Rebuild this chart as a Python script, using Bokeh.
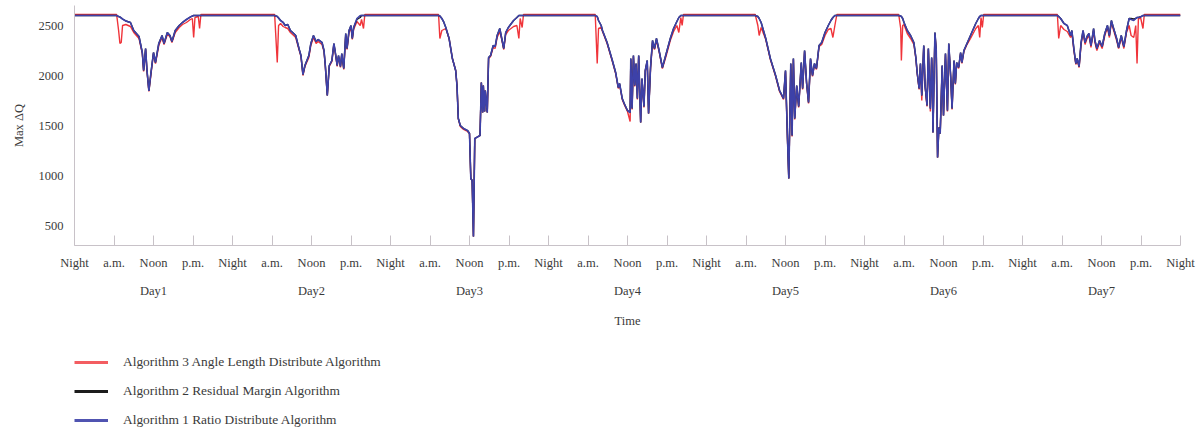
from bokeh.plotting import figure
from bokeh.layouts import column
from bokeh.models import Range1d, FixedTicker, LinearAxis, Legend, LegendItem
from bokeh.embed import file_html
from bokeh.resources import INLINE

# Time in hours since the start of Day1 (one row per sample, one line per day)
hours = (
    [0, 6.4, 6.7, 6.9, 7.1, 7.3, 7.8, 8.5, 9.0, 9.8, 10.3, 10.5, 10.8, 11.0, 11.3, 11.6, 12.0, 12.3, 12.8, 13.3, 13.6, 14.1, 14.5, 14.8, 15.3, 15.9, 16.4, 17.0, 17.6, 17.9, 18.1, 18.3, 18.8, 19.0, 19.2]
    + [30.4, 30.8, 31.0, 31.3, 31.7, 32.0, 32.4, 32.8, 33.3, 33.6, 34.1, 34.4, 34.7, 35.0, 35.6, 35.9, 36.3, 36.7, 37.0, 37.6, 37.9, 38.1, 38.4, 38.7, 39.1, 39.4, 39.6, 39.9, 40.1, 40.4, 40.6, 40.9, 41.2, 41.4, 41.7, 42.0, 42.2, 42.4, 42.9, 43.4, 43.6, 43.9, 44.1]
    + [55.3, 55.5, 55.8, 56.1, 56.4, 56.9, 57.4, 57.9, 58.1, 58.3, 58.6, 59.1, 59.7, 60.0, 60.2, 60.4, 60.6, 60.8, 61.2, 61.6, 61.8, 62.0, 62.1, 62.3, 62.4, 62.7, 62.9, 63.2, 63.6, 63.9, 64.2, 64.6, 64.9, 65.2, 65.5, 65.9, 66.7, 67.2, 67.5, 67.7, 68.0, 68.2]
    + [79.1, 79.4, 79.6, 80.0, 80.2, 80.9, 81.7, 82.2, 82.6, 82.8, 83.2, 83.5, 84.0, 84.4, 84.5, 84.7, 84.9, 85.1, 85.3, 85.5, 85.7, 86.0, 86.2, 86.5, 86.7, 87.0, 87.2, 87.5, 87.8, 88.1, 88.4, 88.8, 89.3, 89.8, 90.5, 91.0, 91.5, 91.8, 92.1, 92.3, 92.5]
    + [103.4, 103.8, 104.0, 104.3, 105.0, 105.7, 106.5, 107.1, 107.7, 108.0, 108.3, 108.5, 108.8, 109.0, 109.2, 109.4, 109.7, 110.0, 110.4, 110.6, 110.9, 111.2, 111.5, 111.8, 112.1, 112.4, 112.7, 113.1, 113.5, 114.0, 114.5, 114.9, 115.2, 115.5, 115.8]
    + [125.2, 125.5, 125.6, 125.8, 126.0, 126.5, 127.0, 127.5, 127.8, 128.0, 128.3, 128.5, 128.7, 129.0, 129.2, 129.5, 129.7, 130.0, 130.2, 130.3, 130.4, 130.7, 130.9, 131.1, 131.3, 131.5, 131.8, 132.0, 132.3, 132.6, 132.8, 133.1, 133.3, 133.6, 133.8, 134.0, 134.3, 134.6, 134.8, 135.1, 135.5, 136.1, 136.9, 137.3, 137.5, 137.7, 137.9, 138.1]
    + [149.3, 149.5, 149.8, 150.3, 150.8, 151.3, 151.5, 151.8, 152.1, 152.3, 152.6, 152.9, 153.2, 153.5, 153.8, 154.1, 154.4, 154.6, 154.8, 155.0, 155.3, 155.7, 156.1, 156.5, 156.9, 157.2, 157.5, 157.8, 158.3, 158.6, 159.0, 159.4, 159.8, 160.2, 160.5, 160.9, 161.2, 161.4, 161.6, 161.9, 162.3, 162.5, 168]
)

# Algorithm 1: Ratio Distribute Algorithm
ratio_distribute = (
    [2600, 2600, 2590, 2585, 2575, 2565, 2545, 2530, 2450, 2390, 2230, 2050, 2270, 2060, 1845, 2020, 2230, 2130, 2320, 2400, 2320, 2430, 2400, 2340, 2450, 2500, 2530, 2560, 2585, 2595, 2600, 2600, 2600, 2600, 2600]
    + [2600, 2590, 2575, 2550, 2530, 2500, 2510, 2450, 2420, 2400, 2270, 2200, 2010, 2100, 2200, 2320, 2400, 2340, 2360, 2330, 2250, 2100, 1800, 2100, 2150, 2320, 2240, 2100, 2200, 2090, 2220, 2070, 2420, 2270, 2450, 2500, 2370, 2480, 2570, 2600, 2600, 2600, 2600]
    + [2600, 2595, 2570, 2533, 2480, 2370, 2170, 2050, 1900, 1570, 1500, 1470, 1450, 1420, 970, 950, 390, 1370, 1385, 1400, 1930, 1630, 1900, 1640, 1850, 1630, 2180, 2200, 2300, 2290, 2400, 2470, 2370, 2270, 2430, 2480, 2550, 2580, 2600, 2600, 2600, 2600]
    + [2600, 2590, 2550, 2500, 2450, 2330, 2150, 2030, 1880, 1920, 1770, 1720, 1650, 1630, 2170, 1670, 2200, 1900, 2120, 1770, 2200, 1530, 1970, 1690, 2050, 2150, 1620, 2080, 2350, 2270, 2370, 2250, 2080, 2200, 2370, 2470, 2540, 2580, 2600, 2600, 2600]
    + [2600, 2590, 2570, 2530, 2370, 2170, 2000, 1850, 1770, 2050, 1370, 970, 2120, 1400, 2170, 1570, 1900, 1690, 2130, 1870, 2250, 1930, 1730, 2170, 2000, 2120, 2070, 2300, 2330, 2430, 2500, 2550, 2580, 2600, 2600]
    + [2600, 2595, 2590, 2570, 2530, 2450, 2400, 2330, 2180, 2030, 1870, 2120, 1800, 2300, 1900, 1700, 2270, 1670, 2180, 1980, 1430, 2430, 2250, 1180, 1480, 1420, 2100, 1600, 2220, 1650, 2320, 1980, 1670, 2150, 1920, 2130, 2080, 2230, 2130, 2250, 2310, 2400, 2520, 2570, 2590, 2600, 2600, 2600]
    + [2600, 2590, 2570, 2520, 2500, 2400, 2450, 2270, 2120, 2170, 2090, 2330, 2450, 2330, 2390, 2420, 2300, 2380, 2470, 2350, 2270, 2350, 2290, 2420, 2500, 2400, 2550, 2480, 2370, 2280, 2400, 2290, 2450, 2570, 2560, 2550, 2570, 2580, 2580, 2585, 2600, 2600, 2600]
)

# Algorithm 2: Residual Margin Algorithm
residual_margin = (
    [2600, 2600, 2590, 2585, 2575, 2565, 2545, 2530, 2450, 2390, 2230, 2050, 2270, 2060, 1845, 2020, 2230, 2130, 2320, 2400, 2320, 2430, 2400, 2340, 2450, 2500, 2530, 2560, 2585, 2595, 2600, 2600, 2600, 2600, 2600]
    + [2600, 2590, 2575, 2550, 2530, 2500, 2510, 2450, 2420, 2400, 2270, 2200, 2010, 2100, 2200, 2320, 2400, 2340, 2360, 2330, 2250, 2100, 1800, 2100, 2150, 2320, 2240, 2100, 2200, 2090, 2220, 2070, 2420, 2270, 2450, 2500, 2370, 2480, 2560, 2580, 2600, 2600, 2600]
    + [2600, 2595, 2570, 2533, 2480, 2370, 2170, 2050, 1900, 1570, 1500, 1470, 1450, 1420, 970, 950, 390, 1370, 1385, 1400, 1930, 1630, 1900, 1640, 1850, 1630, 2180, 2200, 2300, 2290, 2400, 2470, 2370, 2270, 2430, 2480, 2550, 2580, 2600, 2600, 2600, 2600]
    + [2600, 2590, 2550, 2500, 2450, 2330, 2150, 2030, 1880, 1920, 1770, 1720, 1650, 1630, 2170, 1670, 2200, 1900, 2120, 1770, 2200, 1530, 1970, 1690, 2050, 2150, 1620, 2080, 2350, 2270, 2370, 2250, 2080, 2200, 2370, 2470, 2540, 2580, 2600, 2600, 2600]
    + [2600, 2590, 2570, 2530, 2370, 2170, 2000, 1850, 1770, 2050, 1370, 970, 2120, 1400, 2170, 1570, 1900, 1690, 2130, 1870, 2250, 1930, 1730, 2170, 2000, 2120, 2070, 2300, 2330, 2430, 2500, 2550, 2580, 2600, 2600]
    + [2600, 2595, 2590, 2570, 2530, 2450, 2400, 2330, 2180, 2030, 1870, 2120, 1800, 2300, 1900, 1700, 2270, 1670, 2180, 1980, 1430, 2430, 2250, 1180, 1480, 1420, 2100, 1600, 2220, 1650, 2320, 1980, 1670, 2150, 1920, 2130, 2080, 2230, 2130, 2250, 2310, 2400, 2520, 2570, 2590, 2600, 2600, 2600]
    + [2600, 2590, 2570, 2520, 2500, 2400, 2450, 2270, 2120, 2170, 2090, 2330, 2450, 2330, 2390, 2420, 2300, 2380, 2470, 2350, 2270, 2350, 2290, 2420, 2500, 2400, 2550, 2480, 2370, 2280, 2400, 2290, 2450, 2570, 2570, 2565, 2570, 2580, 2580, 2585, 2600, 2600, 2600]
)

# Algorithm 3: Angle Length Distribute Algorithm
angle_length = (
    [2610, 2610, 2450, 2320, 2330, 2500, 2510, 2490, 2430, 2370, 2220, 2040, 2260, 2050, 1840, 2000, 2220, 2120, 2300, 2380, 2310, 2410, 2390, 2330, 2430, 2480, 2510, 2530, 2560, 2570, 2380, 2580, 2590, 2470, 2610]
    + [2610, 2130, 2500, 2520, 2490, 2480, 2470, 2430, 2400, 2380, 2260, 2190, 2000, 2090, 2180, 2300, 2380, 2320, 2340, 2310, 2240, 2090, 1800, 2090, 2140, 2310, 2230, 2090, 2190, 2080, 2210, 2060, 2400, 2260, 2430, 2480, 2360, 2460, 2540, 2500, 2560, 2470, 2610]
    + [2610, 2370, 2450, 2460, 2470, 2370, 2170, 2050, 1900, 1570, 1490, 1460, 1440, 1420, 970, 950, 390, 1370, 1385, 1400, 1930, 1630, 1900, 1640, 1850, 1630, 2170, 2190, 2280, 2270, 2380, 2440, 2360, 2260, 2410, 2450, 2490, 2500, 2370, 2570, 2480, 2610]
    + [2610, 2120, 2470, 2480, 2440, 2320, 2140, 2020, 1870, 1910, 1760, 1710, 1640, 1540, 2160, 1660, 2190, 1890, 2110, 1760, 2190, 1530, 1960, 1680, 2040, 2140, 1620, 2070, 2330, 2260, 2350, 2240, 2070, 2180, 2350, 2440, 2500, 2430, 2580, 2500, 2610]
    + [2610, 2500, 2400, 2480, 2360, 2160, 1990, 1840, 1760, 2040, 1360, 970, 2110, 1390, 2160, 1560, 1890, 1680, 2120, 1860, 2240, 1920, 1720, 2160, 1990, 2110, 2060, 2290, 2310, 2400, 2460, 2470, 2380, 2500, 2610]
    + [2610, 2470, 2150, 2500, 2510, 2420, 2370, 2310, 2170, 2020, 1860, 2110, 1750, 2290, 1890, 1690, 2260, 1640, 2170, 1970, 1430, 2420, 2240, 1180, 1480, 1420, 2090, 1600, 2210, 1640, 2310, 1970, 1660, 2140, 1910, 2120, 2070, 2220, 2120, 2240, 2300, 2370, 2470, 2500, 2380, 2580, 2480, 2610]
    + [2610, 2370, 2500, 2460, 2440, 2380, 2430, 2250, 2110, 2160, 2080, 2310, 2430, 2310, 2370, 2400, 2280, 2360, 2450, 2330, 2250, 2330, 2270, 2400, 2480, 2380, 2530, 2460, 2350, 2270, 2380, 2270, 2430, 2500, 2400, 2380, 2500, 2120, 2560, 2590, 2470, 2610, 2610]
)

assert len(hours) == len(ratio_distribute) == len(residual_margin) == len(angle_length)

# Axis ticks: four labels per day over seven days
quarter_ticks = [0, 6, 12, 18, 24, 30, 36, 42, 48, 54, 60, 66, 72, 78, 84, 90, 96,
                 102, 108, 114, 120, 126, 132, 138, 144, 150, 156, 162, 168]
quarter_labels = ["Night", "a.m.", "Noon", "p.m."]
day_ticks = [12, 36, 60, 84, 108, 132, 156]
day_labels = ["Day1", "Day2", "Day3", "Day4", "Day5", "Day6", "Day7"]
y_ticks = [500, 1000, 1500, 2000, 2500]
series_names = ["Algorithm 3 Angle Length Distribute Algorithm",
                "Algorithm 2 Residual Margin Algorithm",
                "Algorithm 1 Ratio Distribute Algorithm"]

FONT = "Liberation Serif"
FS = "12.5px"
TEXT = "#3a3a3a"
AXIS = "#c8c2c8"
RED = "#f0343a"
BLACK = "#1c1c1c"
BLUE = "#3d41a8"

p = figure(width=1202, height=345, output_backend="svg", toolbar_location=None,
           x_range=Range1d(0, 168), y_range=Range1d(300, 2700),
           min_border_left=74, min_border_right=22, min_border_top=5,
           min_border_bottom=100)
p.outline_line_color = None
p.grid.visible = False

p.line(hours, angle_length, line_color=RED, line_width=1.4)
p.line(hours, residual_margin, line_color=BLACK, line_width=1.4)
p.line(hours, ratio_distribute, line_color=BLUE, line_width=1.6)

# X axis with the time-of-day labels
xa = p.xaxis[0]
xa.ticker = FixedTicker(ticks=quarter_ticks)
xa.major_label_overrides = {t: quarter_labels[i % 4] for i, t in enumerate(quarter_ticks)}
xa.axis_line_color = AXIS
xa.major_tick_line_color = AXIS
xa.major_tick_in = 10
xa.major_tick_out = 0
xa.minor_tick_line_color = None
xa.major_label_standoff = 10
xa.major_label_text_font = FONT
xa.major_label_text_font_size = FS
xa.major_label_text_color = TEXT

# Second row: day names and the axis title
da = LinearAxis(ticker=FixedTicker(ticks=day_ticks),
                major_label_overrides={t: day_labels[i] for i, t in enumerate(day_ticks)},
                axis_line_color=None, major_tick_line_color=None, minor_tick_line_color=None,
                major_label_standoff=5, major_label_text_font=FONT,
                major_label_text_font_size=FS, major_label_text_color=TEXT,
                axis_label="Time", axis_label_standoff=13, axis_label_text_font=FONT,
                axis_label_text_font_size=FS, axis_label_text_font_style="normal",
                axis_label_text_color=TEXT)
p.add_layout(da, "below")

ya = p.yaxis[0]
ya.ticker = FixedTicker(ticks=y_ticks)
ya.axis_line_color = AXIS
ya.major_tick_in = 0
ya.major_tick_out = 0
ya.minor_tick_line_color = None
ya.major_label_standoff = 11
ya.major_label_text_font = FONT
ya.major_label_text_font_size = FS
ya.major_label_text_color = TEXT
ya.axis_label = "Max ΔQ"
ya.axis_label_standoff = 10
ya.axis_label_text_font = FONT
ya.axis_label_text_font_size = FS
ya.axis_label_text_font_style = "normal"
ya.axis_label_text_color = TEXT

# Legend strip under the chart; each key is a one-sample (NaN) line so that
# only its swatch is drawn
NAN = float("nan")
leg = figure(width=1202, height=86, output_backend="svg", toolbar_location=None,
             x_axis_type=None, y_axis_type=None,
             x_range=Range1d(0, 1), y_range=Range1d(0, 1),
             min_border_left=74, min_border_right=22, min_border_top=7,
             min_border_bottom=0)
leg.outline_line_color = None
leg.grid.visible = False
k_red = leg.line([NAN], [NAN], line_color=RED, line_width=3, line_alpha=0.8)
k_black = leg.line([NAN], [NAN], line_color=BLACK, line_width=3)
k_blue = leg.line([NAN], [NAN], line_color=BLUE, line_width=3, line_alpha=0.9)

legend = Legend(items=[
    LegendItem(label=series_names[0], renderers=[k_red]),
    LegendItem(label=series_names[1], renderers=[k_black]),
    LegendItem(label=series_names[2], renderers=[k_blue]),
], location="top_left", orientation="vertical", glyph_width=34, glyph_height=20,
    label_standoff=15, spacing=9, padding=0, margin=0,
    border_line_color=None, background_fill_alpha=0,
    label_text_font=FONT, label_text_font_size="13.4px", label_text_color=TEXT)
leg.add_layout(legend, "center")

open("out.html", "w").write(file_html(column(p, leg, spacing=0), INLINE))
